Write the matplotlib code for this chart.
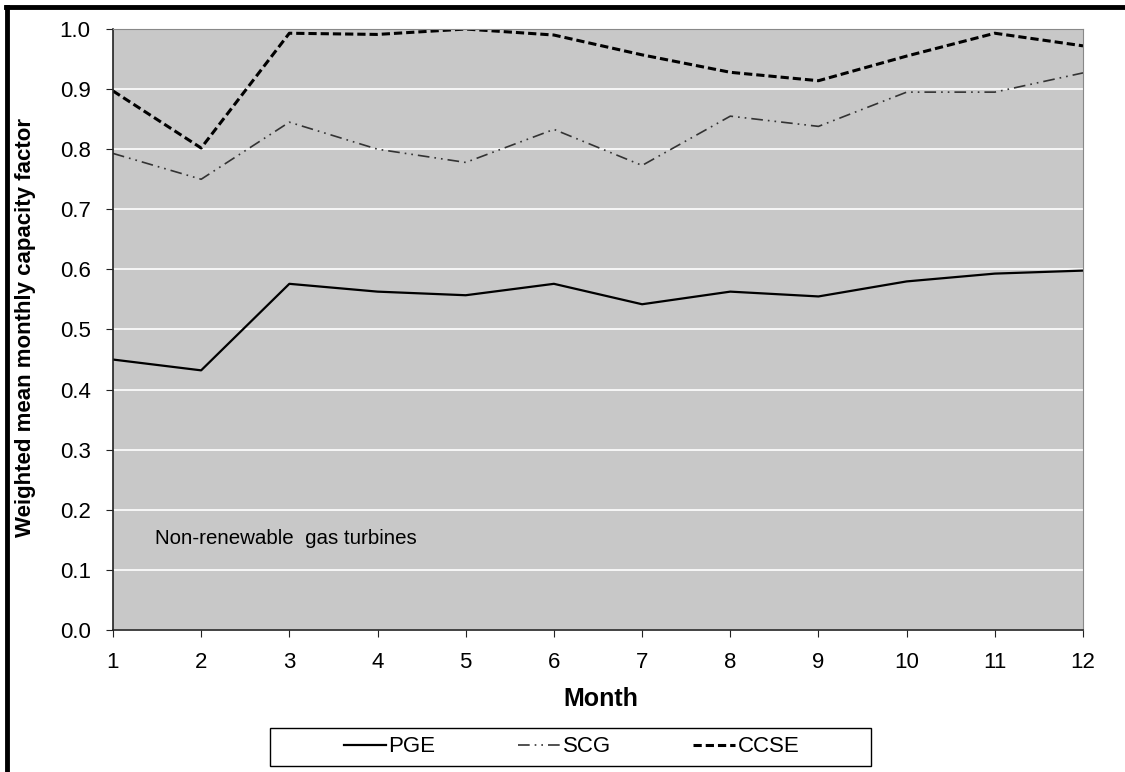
import matplotlib.pyplot as plt
from matplotlib.lines import Line2D
from matplotlib.patches import Rectangle

plt.rcParams['font.family'] = ['Liberation Sans', 'DejaVu Sans']

# Monthly weighted mean capacity factors
months = [1, 2, 3, 4, 5, 6, 7, 8, 9, 10, 11, 12]
pge = [0.450, 0.432, 0.576, 0.563, 0.557, 0.576, 0.542, 0.563, 0.555, 0.580, 0.593, 0.598]
scg = [0.793, 0.750, 0.845, 0.800, 0.778, 0.833, 0.773, 0.855, 0.838, 0.895, 0.895, 0.927]
ccse = [0.897, 0.802, 0.993, 0.991, 1.000, 0.990, 0.957, 0.928, 0.914, 0.955, 0.993, 0.972]
yticks = [0.0, 0.1, 0.2, 0.3, 0.4, 0.5, 0.6, 0.7, 0.8, 0.9, 1.0]

fig = plt.figure(figsize=(11.25, 7.72), dpi=100)
ax = fig.add_axes([0.1004, 0.184, 0.8623, 0.7784])
ax.set_facecolor('#c8c8c8')

ax.plot(months, pge, color='black', lw=1.6, label='PGE')
ax.plot(months, scg, color='#333333', lw=1.2, dashes=(7, 3, 1, 3, 1, 3), label='SCG')
ax.plot(months, ccse, color='black', lw=2.2, dashes=(2.7, 1.3), label='CCSE')

ax.set_xlim(1, 12)
ax.set_ylim(0, 1.0)
ax.set_xticks(months)
ax.set_yticks(yticks)
ax.set_yticklabels(['%.1f' % v for v in yticks])
ax.yaxis.grid(True, color='white', lw=1.2)
ax.set_axisbelow(True)
ax.tick_params(axis='both', labelsize=16, direction='out', length=5, color='#222222')
ax.tick_params(axis='x', pad=11)
ax.tick_params(axis='y', pad=11)
for s in ['top', 'right']:
    ax.spines[s].set_color('#888888')
for s in ['left', 'bottom']:
    ax.spines[s].set_color('#222222')
    ax.spines[s].set_linewidth(1.2)

ax.set_xlabel('Month', fontsize=18, fontweight='bold')
ax.xaxis.set_label_coords(0.503, -0.095)
ax.set_ylabel('Weighted mean monthly capacity factor', fontsize=16, fontweight='bold')
ax.yaxis.set_label_coords(-0.079, 0.504)
ax.text(1.48, 0.153, 'Non-renewable  gas turbines', fontsize=14.8, va='center')

leg = fig.legend(loc='center', bbox_to_anchor=(0.508, 0.0324), ncol=3, fontsize=16,
                 frameon=False, handlelength=1.9, handletextpad=0.12, columnspacing=3.7)

# legend box, wider than the entries as in the original
fig.add_artist(Rectangle((0.24, 0.0078), 0.534, 0.049, transform=fig.transFigure,
                         fill=False, edgecolor='black', lw=1.0))

# thick border along top and left edges
fig.add_artist(Line2D([0.005, 1.0], [0.9915, 0.9915], transform=fig.transFigure, color='black', lw=3.5))
fig.add_artist(Line2D([0.0065, 0.0065], [0.0, 0.9915], transform=fig.transFigure, color='black', lw=3.5))

fig.savefig('out.png', dpi=100)
